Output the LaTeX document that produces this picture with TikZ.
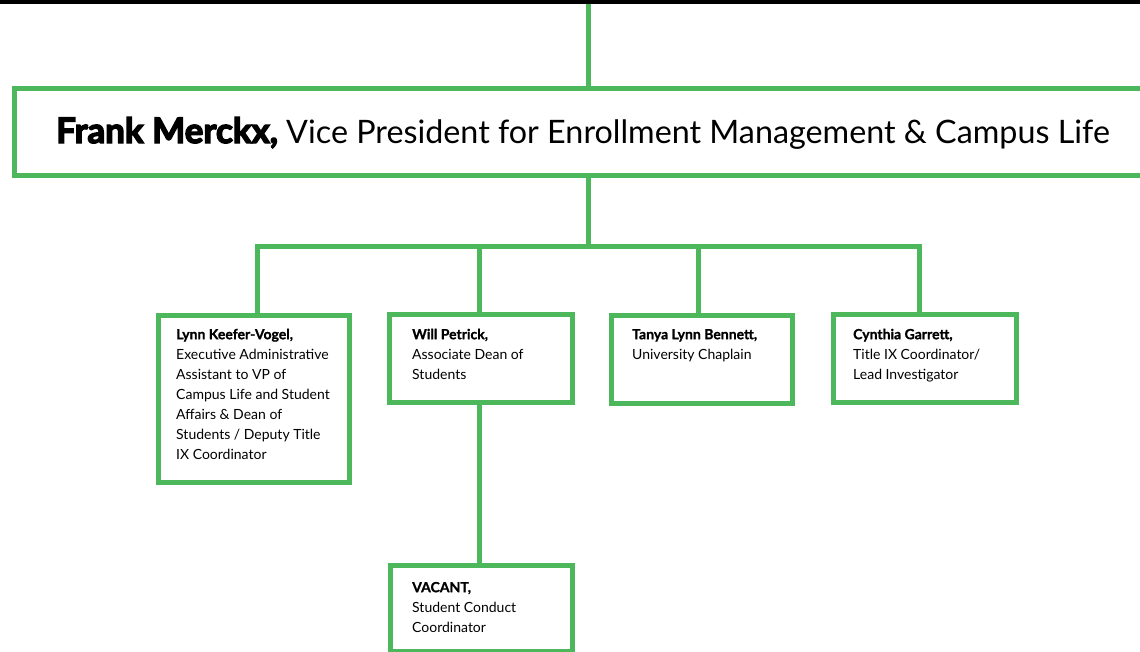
\documentclass[tikz,border=0pt]{standalone}
\usepackage{fontspec}
\setmainfont{Lato}[BoldFeatures={FakeBold=1}]
\newfontfamily\heavyfont[BoldFeatures={FakeBold=4}]{Lato}
\definecolor{grn}{HTML}{4CB85B}
\newcommand{\firstln}{\rule{0pt}{11pt}}
\begin{document}
\begin{tikzpicture}[x=1pt,y=-1pt,
  box/.style={draw=grn, line width=5pt, rectangle, inner sep=0pt, anchor=north west},
  conn/.style={draw=grn, line width=5pt, line join=miter},
  body/.style={anchor=north west, align=left, inner sep=0pt, font=\fontsize{14}{20}\selectfont},
  title/.style={anchor=base west, inner sep=0pt, font=\fontsize{32.3}{40}\selectfont}]
\useasboundingbox (0,0) rectangle (1140,651);
\clip (0,0) rectangle (1140,651);
\fill[black] (0,0) rectangle (1140,4);
% boxes
\node[box, minimum width=1160, minimum height=87] (vp) at (11.5,85.5) {};
\node[box, minimum width=191, minimum height=167] (lynn) at (155.5,312.5) {};
\node[box, minimum width=183, minimum height=88] (will) at (386.5,311.5) {};
\node[box, minimum width=181, minimum height=88] (tanya) at (608.5,312.5) {};
\node[box, minimum width=183, minimum height=88] (cyn) at (830.5,311.5) {};
\node[box, minimum width=182, minimum height=86] (vac) at (387.5,562.5) {};
% texts
\node[title] (vpt) at (56,143) {{\fontsize{35}{40}\selectfont\heavyfont\bfseries Frank Merckx,} Vice President for Enrollment Management \& Campus Life};
\node[body] (lynnt) at (176,328) {\firstln\textbf{Lynn Keefer-Vogel,}\\Executive Administrative\\Assistant to VP of\\Campus Life and Student\\Affairs \& Dean of\\Students / Deputy Title\\IX Coordinator};
\node[body] (willt) at (412,328) {\firstln\textbf{Will Petrick,}\\Associate Dean of\\Students};
\node[body] (tanyat) at (632,328) {\firstln\textbf{Tanya Lynn Bennett,}\\University Chaplain};
\node[body] (cynt) at (853,328) {\firstln\textbf{Cynthia Garrett,}\\Title IX Coordinator/\\Lead Investigator};
\node[body] (vact) at (412,581) {\firstln\textbf{VACANT,}\\Student Conduct\\Coordinator};
% connectors
\coordinate (top) at (588,4);
\coordinate (bus) at (588,246.5);
\coordinate (lt) at ([xshift=3.5pt]lynn.north);
\coordinate (wt) at ([xshift=-1pt]will.north);
\coordinate (tt) at ([xshift=-3pt]tanya.north);
\coordinate (ct) at ([xshift=-5pt]cyn.north);
\draw[conn] (top) -- (top |- vp.north);
\draw[conn] (vp.south -| top) -- (bus);
\draw[conn] (lt) -- (lt |- bus) -- (ct |- bus) -- (ct);
\draw[conn] (wt |- bus) -- (wt);
\draw[conn] (tt |- bus) -- (tt);
\draw[conn] (will.south -| wt) -- (vac.north -| wt);
\end{tikzpicture}
\end{document}
